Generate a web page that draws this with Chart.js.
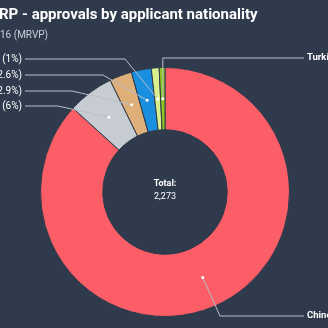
<!DOCTYPE html>
<html>
<head>
<meta charset="utf-8">
<script src="https://cdn.jsdelivr.net/npm/chart.js@4.4.0/dist/chart.umd.min.js"></script>
<style>
  html, body { margin: 0; padding: 0; background: #2f3a4c; }
  #wrap { width: 328px; height: 328px; }
</style>
</head>
<body>
<div id="wrap"><canvas id="natChart" width="328" height="328"></canvas></div>
<script>
// approvals by nationality (labels cut off on the left/right in the original)
var nationalities = ["Chinese", "Others", "Russian", "Saudi", "Iranian", "Turkish"];
var labelTexts = ["Chinese", "Others (6%)", "Russian (2.9%)", "Saudi (2.6%)", "Iranian (1%)", "Turkish"];
var approvals = [1972, 136, 66, 59, 23, 17];
var total = "2,273";

var sliceColors = [
  "#fb5e66",
  "#c7ccd2",
  "#deaf78",
  "#1a8fe0",
  "#daf08c",
  "#8cc51f"
];

// where each leader line bends and where its text sits
var labelSpots = [
  { side: "right", y: 316, bendX: 220 },
  { side: "left", y: 106, bendX: 58 },
  { side: "left", y: 91, bendX: 72 },
  { side: "left", y: 75, bendX: 103 },
  { side: "left", y: 59, bendX: 125 },
  { side: "right", y: 58, bendX: null }
];

var outsideLabels = {
  id: "outsideLabels",
  afterDraw: function(chart) {
    var ctx = chart.ctx;
    var arcs = chart.getDatasetMeta(0).data;
    ctx.save();

    // title + subtitle
    ctx.fillStyle = "#ffffff";
    ctx.font = "bold 15px Roboto";
    ctx.textBaseline = "alphabetic";
    ctx.textAlign = "left";
    ctx.fillText("RP - approvals by applicant nationality", -1, 19);
    ctx.fillStyle = "#c9ced6";
    ctx.font = "10px Roboto";
    ctx.fillText("16 (MRVP)", 0, 38);

    // centre text
    var c = arcs[0];
    ctx.fillStyle = "#ffffff";
    ctx.textAlign = "center";
    ctx.textBaseline = "middle";
    ctx.font = "bold 9px Roboto";
    ctx.fillText("Total:", c.x, c.y - 8);
    ctx.font = "9px Roboto";
    ctx.fillText(total, c.x, c.y + 5);

    // leader lines
    ctx.strokeStyle = "#b9bec8";
    ctx.lineWidth = 1;
    arcs.forEach(function(arc, i) {
      var spot = labelSpots[i];
      var p = arc.tooltipPosition();
      var bx = spot.bendX === null ? p.x : spot.bendX;
      ctx.beginPath();
      ctx.moveTo(p.x, p.y);
      ctx.lineTo(bx, spot.y);
      if (spot.side === "left") {
        ctx.lineTo(25, spot.y);
      } else {
        ctx.lineTo(304, spot.y);
      }
      ctx.stroke();
      ctx.fillStyle = "#ffffff";
      ctx.beginPath();
      ctx.arc(p.x, p.y, 1.5, 0, Math.PI * 2);
      ctx.fill();
      if (spot.side === "left") {
        ctx.textAlign = "right";
        ctx.font = "10px Roboto";
        ctx.fillText(labelTexts[i], 22, spot.y);
      } else {
        ctx.textAlign = "left";
        ctx.font = "bold 9.5px Roboto";
        ctx.fillText(labelTexts[i], 307, spot.y);
      }
    });
    ctx.restore();
  }
};

new Chart("natChart", {
  type: "doughnut",
  data: {
    labels: nationalities,
    datasets: [{
      backgroundColor: sliceColors,
      borderColor: "#2f3a4c",
      borderWidth: 1,
      data: approvals
    }]
  },
  options: {
    responsive: false,
    animation: false,
    cutout: "50%",
    layout: {
      padding: { left: 40, right: 38, top: 67, bottom: 11 }
    },
    plugins: {
      legend: { display: false },
      tooltip: { enabled: false }
    }
  },
  plugins: [outsideLabels]
});
</script>
</body>
</html>
